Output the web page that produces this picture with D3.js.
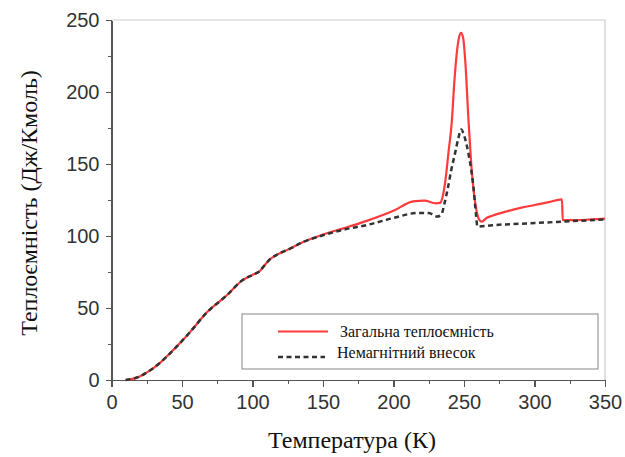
<!DOCTYPE html>
<meta charset="utf-8">
<style>
body { margin: 0; background: #fff; }
.axis path, .axis line { stroke: #555; stroke-width: 1.4; shape-rendering: crispEdges; }
</style>
<body>
<script src="https://cdn.jsdelivr.net/npm/d3@7"></script>
<script>

// total heat capacity (red)
var totalT = [10, 15, 20, 26, 34, 46, 56, 67, 82, 93, 100, 105, 108, 112, 117, 127, 134, 150, 165, 181, 200, 214, 222, 230, 233,
  235, 237, 239, 241.4, 243, 245, 246.5, 248, 249.5, 251, 253.2, 255, 257, 259, 261, 262.6, 266, 270, 280, 290, 300, 310, 319.5, 320, 330, 340, 350];
var totalC = [0, 0.8, 2.5, 5.8, 11.6, 23, 33.6, 46.3, 59, 69.4, 73, 75.5, 79, 83.5, 86.8, 91.4, 95, 101, 105.5, 110.5, 117.5, 124, 124.5, 122.7, 123,
  128, 140, 158, 180, 205, 228, 238, 241, 237, 220, 180, 152, 130, 117, 111, 110, 112.5, 114, 117, 119.5, 121.5, 123.5, 125.5, 111, 111, 111.5, 112];

// non-magnetic contribution (black dashed)
var nonmagT = [10, 15, 20, 26, 34, 46, 56, 67, 82, 93, 100, 105, 108, 112, 117, 127, 134, 150, 165, 181, 200, 217, 225, 231, 234,
  236, 238.7, 241, 243.7, 246, 248, 250, 253.2, 256.7, 258.5, 259.5, 270, 290, 320, 350];
var nonmagC = [0, 0.8, 2.5, 5.8, 11.6, 23, 33.6, 46.3, 59, 69.4, 73, 75.5, 79, 83.5, 86.8, 91.4, 95, 100.5, 104.5, 107.6, 112.5, 116, 116, 113.5, 115,
  122, 134, 146, 157.6, 168, 174, 170, 157, 134, 115, 106.5, 107.5, 108.5, 110, 111.5];

var xTicks = [0, 50, 100, 150, 200, 250, 300, 350];
var yTicks = [0, 50, 100, 150, 200, 250];
var legendLabels = ["Загальна теплоємність", "Немагнітний внесок"];

var sansFont = "'Liberation Sans', Arial, Helvetica, sans-serif",
    serifFont = "'Liberation Serif', 'Times New Roman', 'DejaVu Serif', serif";

var margin = {top: 20, right: 20, bottom: 77, left: 111.5},
    width = 625 - margin.left - margin.right,
    height = 457 - margin.top - margin.bottom;

var x = d3.scaleLinear().domain([0, 350]).range([0, width]);
var y = d3.scaleLinear().domain([0, 250]).range([height, 0]);

var svg = d3.select("body").append("svg")
    .attr("width", 625)
    .attr("height", 457)
  .append("g")
    .attr("transform", "translate(" + margin.left + "," + margin.top + ")");

// light frame on top and right
svg.append("path")
    .attr("d", "M0,0H" + width + "V" + height)
    .attr("fill", "none")
    .attr("stroke", "#ccc")
    .attr("stroke-width", 1.2);

// minor ticks
var xMinor = d3.range(25, 350, 50), yMinor = d3.range(25, 250, 50);
svg.append("g").attr("class", "axis")
    .attr("transform", "translate(0," + height + ")")
    .call(d3.axisBottom(x).tickValues(xMinor).tickSize(4).tickFormat(""))
    .select(".domain").remove();
svg.append("g").attr("class", "axis")
    .call(d3.axisLeft(y).tickValues(yMinor).tickSize(4).tickFormat(""))
    .select(".domain").remove();

var gx = svg.append("g")
    .attr("class", "axis")
    .attr("transform", "translate(0," + height + ")")
    .call(d3.axisBottom(x).tickValues(xTicks).tickSize(7).tickSizeOuter(0).tickPadding(8));

var gy = svg.append("g")
    .attr("class", "axis")
    .call(d3.axisLeft(y).tickValues(yTicks).tickSize(6).tickSizeOuter(0).tickPadding(6));

[gx, gy].forEach(function(g) {
  g.attr("font-family", null).attr("font-size", null);
  g.selectAll("text")
      .style("font-family", sansFont)
      .style("font-size", "20px")
      .style("fill", "#333");
});

var line = d3.line()
    .x(function(d) { return x(d[0]); })
    .y(function(d) { return y(d[1]); })
    .curve(d3.curveMonotoneX);

svg.append("path")
    .datum(d3.zip(totalT, totalC))
    .attr("fill", "none")
    .attr("stroke", "#ff3b3b")
    .attr("stroke-width", 2.2)
    .attr("d", line);

svg.append("path")
    .datum(d3.zip(nonmagT, nonmagC))
    .attr("fill", "none")
    .attr("stroke", "#333")
    .attr("stroke-width", 2.5)
    .attr("stroke-dasharray", "5,3.5")
    .attr("d", line);

// legend
var legend = svg.append("g")
    .attr("transform", "translate(" + (242 - margin.left) + "," + (314 - margin.top) + ")");

legend.append("rect")
    .attr("width", 356)
    .attr("height", 55)
    .attr("fill", "#fff")
    .attr("stroke", "#999")
    .attr("stroke-width", 1.2);

legend.append("line")
    .attr("x1", 36).attr("x2", 86).attr("y1", 17.5).attr("y2", 17.5)
    .attr("stroke", "#ff3b3b").attr("stroke-width", 2.2);
legend.append("line")
    .attr("x1", 36).attr("x2", 83).attr("y1", 43).attr("y2", 43)
    .attr("stroke", "#333").attr("stroke-width", 2.5).attr("stroke-dasharray", "5,3.5");

legend.append("text").attr("x", 98).attr("y", 22.5).text(legendLabels[0]);
legend.append("text").attr("x", 95).attr("y", 44).text(legendLabels[1]);
legend.selectAll("text")
    .style("font-family", serifFont)
    .style("font-size", "16px")
    .style("fill", "#111");

// axis titles
svg.append("text")
    .attr("x", 352 - margin.left)
    .attr("y", 448 - margin.top)
    .attr("text-anchor", "middle")
    .style("font-family", serifFont)
    .style("font-size", "24px")
    .style("fill", "#111")
    .text("Температура (К)");

svg.append("text")
    .attr("transform", "translate(" + (37 - margin.left) + "," + (203 - margin.top) + ") rotate(-90)")
    .attr("text-anchor", "middle")
    .style("font-family", serifFont)
    .style("font-size", "24px")
    .style("fill", "#111")
    .text("Теплоємність (Дж/Кмоль)");

</script>
